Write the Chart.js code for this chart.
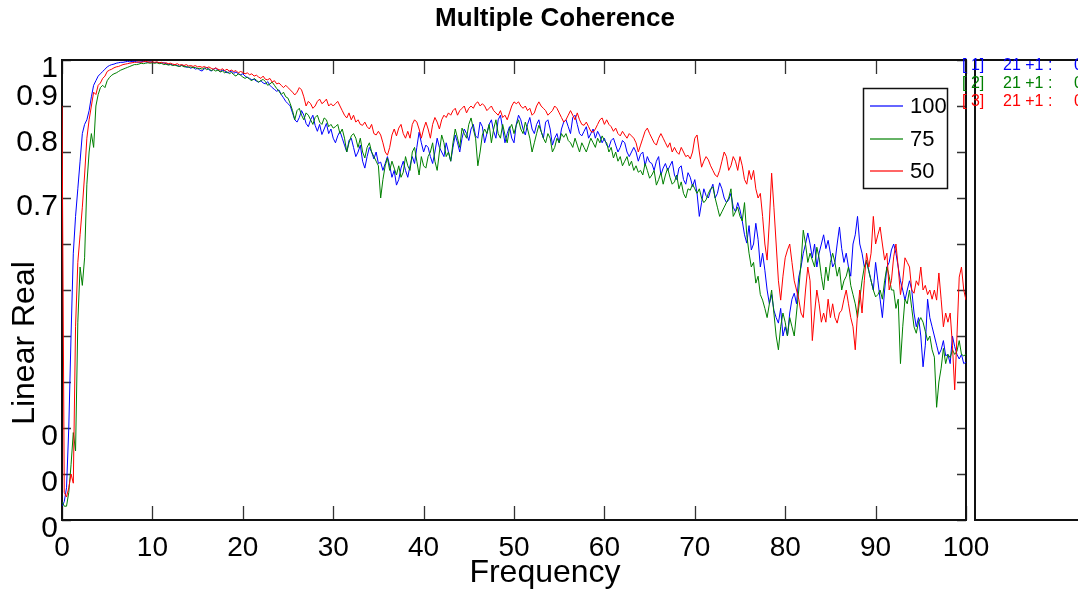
<!DOCTYPE html>
<html><head><meta charset="utf-8">
<script src="https://cdn.jsdelivr.net/npm/chart.js@4.4.1/dist/chart.umd.min.js"></script>
<style>html,body{margin:0;padding:0;background:#fff}canvas{display:block}</style>
</head><body>
<canvas id="c" width="1078" height="592"></canvas>
<script>
// ---------- DATA ----------
const FREQ_STEP = 0.25;
const freq = Array.from({length: 401}, (_, i) => i * FREQ_STEP);

const seriesNames = ['100', '75', '50'];

const coh100 = [0.03,
 0.04,0.07,0.20,0.40,0.58,0.66,0.72,0.78,0.84,0.86,0.87,0.89,0.92,0.945,0.955,0.965,0.97,0.975,0.98,0.985,
 0.988,0.99,0.991,0.993,0.994,0.995,0.995,0.996,0.997,0.996,0.997,0.997,0.996,0.995,0.996,0.997,0.996,0.995,0.996,0.995,
 0.994,0.995,0.994,0.993,0.994,0.992,0.99,0.991,0.989,0.99,0.988,0.986,0.989,0.987,0.984,0.985,0.982,0.985,0.98,0.982,
 0.978,0.976,0.981,0.984,0.979,0.976,0.98,0.982,0.978,0.975,0.978,0.976,0.972,0.974,0.976,0.971,0.974,0.97,0.968,0.97,
 0.965,0.962,0.96,0.957,0.958,0.954,0.952,0.955,0.95,0.948,0.953,0.945,0.94,0.936,0.932,0.935,0.925,0.918,0.91,0.905,
 0.9,0.885,0.87,0.865,0.875,0.89,0.88,0.862,0.855,0.87,0.88,0.858,0.845,0.86,0.838,0.85,0.862,0.84,0.85,0.83,
 0.82,0.835,0.845,0.83,0.815,0.80,0.825,0.83,0.81,0.79,0.8,0.815,0.78,0.765,0.79,0.81,0.8,0.785,0.8,0.775,
 0.778,0.76,0.775,0.79,0.77,0.745,0.76,0.728,0.74,0.765,0.78,0.76,0.745,0.77,0.79,0.775,0.81,0.843,0.82,0.8,
 0.815,0.81,0.79,0.775,0.80,0.83,0.81,0.80,0.79,0.82,0.80,0.78,0.81,0.837,0.82,0.8,0.83,0.85,0.84,0.825,
 0.85,0.86,0.835,0.83,0.865,0.855,0.82,0.84,0.86,0.87,0.845,0.83,0.87,0.88,0.85,0.82,0.84,0.855,0.83,0.82,
 0.86,0.88,0.87,0.85,0.837,0.86,0.875,0.85,0.84,0.86,0.87,0.845,0.83,0.865,0.87,0.85,0.815,0.83,0.84,0.82,
 0.85,0.865,0.87,0.855,0.84,0.875,0.88,0.86,0.84,0.835,0.845,0.855,0.83,0.84,0.85,0.83,0.845,0.835,0.82,0.83,
 0.815,0.81,0.825,0.83,0.815,0.80,0.81,0.825,0.82,0.80,0.79,0.80,0.81,0.80,0.78,0.795,0.8,0.77,0.79,0.778,
 0.775,0.76,0.78,0.79,0.75,0.765,0.775,0.76,0.77,0.78,0.75,0.74,0.765,0.77,0.74,0.73,0.755,0.745,0.725,0.74,
 0.71,0.66,0.69,0.72,0.705,0.70,0.717,0.73,0.7,0.71,0.733,0.72,0.70,0.69,0.696,0.71,0.68,0.67,0.69,0.674,
 0.65,0.62,0.602,0.64,0.587,0.6,0.645,0.61,0.55,0.58,0.543,0.5,0.47,0.49,0.456,0.44,0.428,0.46,0.40,0.42,
 0.40,0.45,0.48,0.493,0.47,0.528,0.55,0.58,0.6,0.624,0.6,0.57,0.6,0.55,0.58,0.6,0.62,0.59,0.608,0.58,
 0.55,0.56,0.6,0.637,0.59,0.56,0.58,0.55,0.53,0.6,0.62,0.66,0.6,0.58,0.55,0.56,0.543,0.52,0.5,0.56,
 0.52,0.48,0.44,0.5,0.55,0.56,0.587,0.6,0.58,0.55,0.52,0.5,0.478,0.5,0.52,0.5,0.45,0.42,0.44,0.4,
 0.333,0.38,0.48,0.44,0.42,0.40,0.38,0.36,0.37,0.39,0.357,0.36,0.34,0.4,0.377,0.36,0.35,0.36,0.34,0.343];

const coh75 = [0.04,
 0.03,0.03,0.06,0.12,0.19,0.15,0.43,0.55,0.51,0.57,0.73,0.80,0.84,0.81,0.90,0.925,0.94,0.945,0.94,0.955,
 0.962,0.967,0.97,0.972,0.975,0.978,0.98,0.982,0.984,0.986,0.988,0.99,0.99,0.991,0.993,0.992,0.993,0.994,0.993,0.994,
 0.993,0.994,0.992,0.993,0.99,0.991,0.989,0.99,0.988,0.989,0.987,0.986,0.988,0.985,0.986,0.984,0.985,0.983,0.984,0.981,
 0.982,0.98,0.983,0.979,0.981,0.977,0.979,0.976,0.978,0.974,0.976,0.972,0.975,0.97,0.973,0.968,0.965,0.97,0.967,0.963,
 0.96,0.963,0.958,0.955,0.96,0.956,0.952,0.955,0.958,0.953,0.945,0.948,0.952,0.945,0.938,0.932,0.925,0.93,0.92,0.917,
 0.905,0.89,0.87,0.89,0.895,0.88,0.87,0.885,0.88,0.87,0.86,0.875,0.88,0.865,0.86,0.874,0.87,0.855,0.86,0.852,
 0.855,0.86,0.84,0.85,0.83,0.80,0.82,0.835,0.84,0.83,0.81,0.83,0.80,0.787,0.81,0.82,0.80,0.79,0.78,0.77,
 0.70,0.74,0.77,0.787,0.76,0.78,0.765,0.75,0.77,0.745,0.756,0.79,0.77,0.76,0.8,0.81,0.78,0.75,0.79,0.77,
 0.765,0.79,0.80,0.82,0.78,0.76,0.80,0.837,0.82,0.79,0.80,0.78,0.82,0.85,0.83,0.81,0.852,0.84,0.83,0.86,
 0.874,0.85,0.83,0.77,0.80,0.837,0.85,0.84,0.86,0.82,0.85,0.87,0.84,0.83,0.86,0.837,0.82,0.85,0.86,0.84,
 0.858,0.87,0.85,0.84,0.865,0.85,0.83,0.80,0.82,0.84,0.858,0.845,0.83,0.82,0.84,0.83,0.80,0.81,0.83,0.82,
 0.84,0.832,0.84,0.825,0.82,0.81,0.83,0.815,0.80,0.82,0.81,0.80,0.815,0.83,0.82,0.81,0.83,0.82,0.835,0.825,
 0.82,0.80,0.81,0.787,0.80,0.78,0.79,0.77,0.78,0.79,0.77,0.78,0.76,0.77,0.756,0.76,0.75,0.775,0.76,0.743,
 0.75,0.76,0.728,0.74,0.755,0.73,0.75,0.765,0.745,0.73,0.735,0.75,0.72,0.735,0.71,0.70,0.72,0.717,0.73,0.72,
 0.71,0.72,0.70,0.69,0.696,0.71,0.72,0.724,0.70,0.68,0.66,0.67,0.68,0.69,0.70,0.72,0.66,0.67,0.68,0.66,
 0.65,0.69,0.62,0.58,0.55,0.56,0.515,0.53,0.49,0.478,0.46,0.44,0.47,0.50,0.45,0.40,0.37,0.42,0.45,0.43,
 0.40,0.44,0.42,0.40,0.45,0.50,0.56,0.63,0.6,0.56,0.58,0.565,0.55,0.593,0.57,0.53,0.50,0.55,0.52,0.56,
 0.58,0.56,0.53,0.55,0.50,0.52,0.53,0.55,0.51,0.49,0.47,0.44,0.48,0.52,0.55,0.565,0.54,0.52,0.5,0.485,
 0.49,0.5,0.48,0.52,0.55,0.53,0.50,0.5,0.46,0.48,0.34,0.42,0.48,0.47,0.5,0.46,0.42,0.406,0.43,0.44,
 0.43,0.41,0.39,0.40,0.37,0.354,0.245,0.30,0.33,0.373,0.34,0.36,0.353,0.37,0.36,0.367,0.39,0.36,0.357,0.36];

const coh50 = [0.90,
 0.06,0.05,0.07,0.10,0.08,0.42,0.56,0.62,0.68,0.75,0.83,0.87,0.90,0.93,0.925,0.945,0.95,0.96,0.965,0.975,
 0.978,0.98,0.983,0.985,0.986,0.988,0.99,0.991,0.992,0.993,0.994,0.995,0.995,0.996,0.995,0.996,0.997,0.996,0.995,0.996,
 0.995,0.996,0.994,0.995,0.993,0.994,0.992,0.993,0.991,0.99,0.992,0.989,0.99,0.988,0.99,0.987,0.988,0.986,0.988,0.985,
 0.986,0.984,0.986,0.983,0.985,0.982,0.98,0.983,0.98,0.978,0.981,0.977,0.98,0.976,0.978,0.975,0.977,0.972,0.975,0.973,
 0.97,0.972,0.968,0.97,0.965,0.967,0.963,0.96,0.965,0.958,0.957,0.96,0.952,0.955,0.948,0.95,0.945,0.94,0.945,0.94,
 0.935,0.93,0.924,0.93,0.94,0.935,0.92,0.90,0.91,0.905,0.895,0.9,0.91,0.915,0.905,0.909,0.915,0.90,0.905,0.9,
 0.905,0.91,0.90,0.89,0.88,0.874,0.885,0.87,0.88,0.865,0.87,0.86,0.858,0.865,0.855,0.85,0.86,0.84,0.837,0.845,
 0.837,0.82,0.80,0.793,0.81,0.837,0.85,0.835,0.852,0.86,0.84,0.83,0.845,0.83,0.86,0.87,0.865,0.85,0.83,0.85,
 0.865,0.85,0.83,0.86,0.875,0.865,0.85,0.87,0.88,0.875,0.885,0.88,0.89,0.895,0.88,0.89,0.895,0.9,0.885,0.895,
 0.9,0.895,0.905,0.909,0.9,0.905,0.9,0.89,0.895,0.9,0.89,0.885,0.88,0.89,0.875,0.88,0.87,0.885,0.9,0.909,
 0.905,0.909,0.9,0.895,0.9,0.89,0.895,0.88,0.885,0.9,0.909,0.9,0.895,0.89,0.88,0.885,0.89,0.9,0.895,0.885,
 0.875,0.865,0.87,0.88,0.89,0.88,0.87,0.885,0.87,0.86,0.858,0.865,0.855,0.845,0.843,0.85,0.86,0.87,0.874,0.86,
 0.87,0.86,0.855,0.845,0.852,0.84,0.835,0.845,0.837,0.83,0.84,0.835,0.83,0.82,0.80,0.815,0.83,0.845,0.852,0.84,
 0.83,0.82,0.815,0.83,0.84,0.83,0.82,0.81,0.82,0.80,0.81,0.8,0.795,0.81,0.80,0.79,0.793,0.785,0.8,0.83,
 0.837,0.8,0.767,0.78,0.79,0.783,0.77,0.76,0.75,0.746,0.76,0.78,0.80,0.79,0.76,0.77,0.79,0.78,0.76,0.79,
 0.77,0.74,0.73,0.76,0.74,0.76,0.72,0.70,0.71,0.66,0.60,0.565,0.65,0.754,0.68,0.60,0.52,0.478,0.53,0.57,
 0.587,0.6,0.56,0.52,0.50,0.48,0.45,0.44,0.5,0.55,0.52,0.39,0.45,0.50,0.47,0.43,0.45,0.43,0.48,0.44,
 0.47,0.44,0.428,0.45,0.456,0.48,0.50,0.47,0.44,0.42,0.37,0.45,0.5,0.45,0.52,0.58,0.55,0.58,0.66,0.6,
 0.62,0.637,0.6,0.565,0.58,0.5,0.52,0.572,0.6,0.55,0.49,0.52,0.57,0.56,0.55,0.5,0.493,0.52,0.51,0.55,
 0.5,0.51,0.49,0.5,0.48,0.5,0.478,0.537,0.48,0.42,0.45,0.43,0.45,0.38,0.283,0.4,0.528,0.55,0.5,0.478];

// y tick labels as they appear (clipped) in the reference, bottom to top
const yTickLabels = ['0', '0', '0', '', '', '', '', '0.7', ['0.8', ''], ['0.9', ''], '1'];

// side panel text rows
const panelIds = ['[ 1]', '[ 2]', '[ 3]'];
const panelText = '21 +1 :';
const panelTail = '0';

// ---------- CHART ----------
[coh100, coh75, coh50].forEach((a, k) => {
  if (a.length !== freq.length) throw new Error('series ' + k + ' length ' + a.length);
});

const FONT = '"Liberation Sans", Arial, Helvetica, sans-serif';
const colors = ['#0000ff', '#008000', '#ff0000'];
const series = [coh100, coh75, coh50];

const deco = {
  id: 'deco',
  beforeDraw(chart) {
    const c = chart.ctx;
    c.save(); c.fillStyle = '#fff'; c.fillRect(0, 0, chart.width, chart.height); c.restore();
  },
  beforeDatasetsDraw(chart) {
    const {ctx, chartArea: a, scales: {x, y}} = chart;
    ctx.save();
    ctx.strokeStyle = '#333'; ctx.lineWidth = 1.3;
    x.ticks.forEach(t => {
      const px = Math.round(x.getPixelForValue(t.value)) + 0.5;
      ctx.beginPath();
      ctx.moveTo(px, a.top); ctx.lineTo(px, a.top + 14);
      ctx.moveTo(px, a.bottom); ctx.lineTo(px, a.bottom - 14);
      ctx.stroke();
    });
    y.ticks.forEach(t => {
      const py = Math.round(y.getPixelForValue(t.value)) + 0.5;
      ctx.beginPath();
      ctx.moveTo(a.left, py); ctx.lineTo(a.left + 9, py);
      ctx.moveTo(a.right, py); ctx.lineTo(a.right - 9, py);
      ctx.stroke();
    });
    ctx.strokeStyle = '#111'; ctx.lineWidth = 2;
    ctx.strokeRect(a.left, a.top, a.right - a.left, a.bottom - a.top);
    ctx.restore();
  },
  afterDatasetsDraw(chart) {
    const {ctx, chartArea: a} = chart;
    ctx.save();
    // legend box
    const lx = 863.5, ly = 88.5, lw = 84, lh = 100;
    ctx.fillStyle = '#fff'; ctx.fillRect(lx, ly, lw, lh);
    ctx.strokeStyle = '#111'; ctx.lineWidth = 1.5; ctx.strokeRect(lx, ly, lw, lh);
    const rowsY = [106, 139, 171];
    ctx.font = '22px ' + FONT; ctx.textBaseline = 'middle'; ctx.textAlign = 'left';
    chart.data.datasets.forEach((ds, i) => {
      ctx.globalAlpha = 0.6;
      ctx.strokeStyle = colors[i]; ctx.lineWidth = 2;
      ctx.beginPath(); ctx.moveTo(870, rowsY[i]); ctx.lineTo(903, rowsY[i]); ctx.stroke();
      ctx.globalAlpha = 1;
      ctx.fillStyle = '#000'; ctx.fillText(ds.label, 910, rowsY[i] + 1);
    });
    // side panel
    ctx.strokeStyle = '#111'; ctx.lineWidth = 2;
    ctx.beginPath();
    ctx.moveTo(1080, a.top); ctx.lineTo(975, a.top); ctx.lineTo(975, a.bottom); ctx.lineTo(1080, a.bottom);
    ctx.stroke();
    ctx.font = '16px ' + FONT; ctx.textBaseline = 'middle';
    const py = [66, 84, 102];
    chart.data.datasets.forEach((ds, i) => {
      ctx.fillStyle = colors[i];
      ctx.fillText(panelIds[i], 962, py[i]);
      ctx.fillText(panelText, 1003, py[i]);
      ctx.fillText(panelTail, 1074, py[i]);
    });
    // title
    ctx.fillStyle = '#000'; ctx.textAlign = 'center';
    ctx.font = 'bold 26px ' + FONT;
    ctx.fillText('Multiple Coherence', 555, 19);
    // axis titles
    ctx.font = '32px ' + FONT;
    ctx.fillText('Frequency', 545, 573);
    ctx.translate(25, 343); ctx.rotate(-Math.PI / 2);
    ctx.fillText('Linear Real', 0, 0);
    ctx.restore();
  }
};

new Chart(document.getElementById('c'), {
  type: 'line',
  data: {
    datasets: series.map((arr, k) => ({
      label: seriesNames[k],
      data: freq.map((f, i) => ({x: f, y: arr[i]})),
      borderColor: colors[k],
      borderWidth: 1,
      pointRadius: 0,
      fill: false,
      tension: 0,
      order: 2 - k
    }))
  },
  options: {
    responsive: false,
    devicePixelRatio: 1,
    animation: false,
    events: [],
    layout: {padding: {top: 60, right: 112, left: 0, bottom: 0}},
    plugins: {legend: {display: false}, title: {display: false}, tooltip: {enabled: false}},
    scales: {
      x: {
        type: 'linear', min: 0, max: 100,
        grid: {display: false, drawTicks: false},
        border: {display: false},
        ticks: {stepSize: 10, color: '#000', font: {family: FONT, size: 28}, padding: 11, maxRotation: 0, autoSkip: false},
        afterFit(s) { s.height = 72; }
      },
      y: {
        type: 'linear', min: 0, max: 1,
        grid: {display: false, drawTicks: false},
        border: {display: false},
        ticks: {
          stepSize: 0.1, autoSkip: false, color: '#000',
          font: {family: FONT, size: 30}, padding: 4, labelOffset: 9,
          callback: (v, i) => yTickLabels[i]
        },
        afterFit(s) { s.width = 62; }
      }
    }
  },
  plugins: [deco]
});
</script>
</body></html>
